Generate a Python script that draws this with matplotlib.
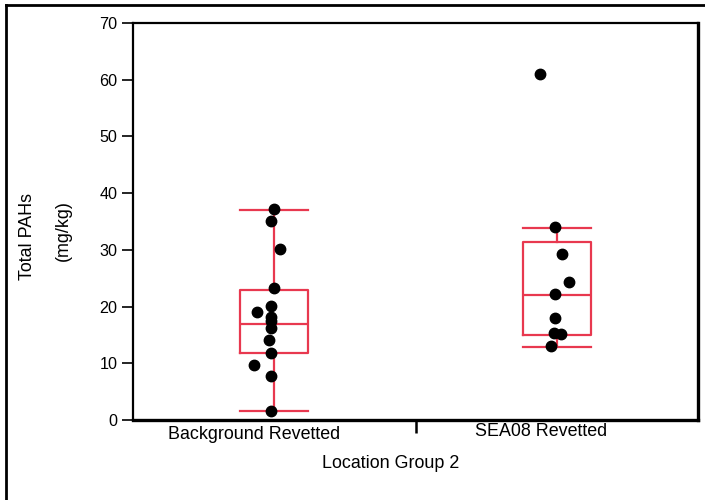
import matplotlib
matplotlib.use("Agg")
import matplotlib.pyplot as plt
from matplotlib.lines import Line2D

plt.rcParams['font.family'] = ['Liberation Sans', 'DejaVu Sans']

# Category names and positions on the x axis
groups = ["Background Revetted", "SEA08 Revetted"]
positions = [0.5, 1.5]

# Individual Total PAH results (mg/kg) with small horizontal jitter offsets
background_vals = [37.2, 35.1, 30.2, 23.3, 20.1, 19.0, 18.2, 17.5, 16.3, 14.1, 11.9, 9.7, 7.8, 1.5]
background_jit = [0.00, -0.01, 0.02, 0.00, -0.01, -0.06, -0.01, -0.01, -0.01, -0.02, -0.01, -0.07, -0.01, -0.01]
sea08_vals = [61.0, 34.1, 29.2, 24.3, 22.2, 18.0, 15.3, 15.1, 13.1]
sea08_jit = [-0.06, -0.005, 0.02, 0.045, -0.005, -0.005, -0.01, 0.015, -0.02]

# Box summaries: lower whisker, Q1, median, Q3, upper whisker
whis_lo = [1.5, 12.9]
q1 = [11.9, 15.0]
medians = [17.0, 22.0]
q3 = [23.0, 31.4]
whis_hi = [37.0, 33.9]

box_color = "#e8384f"
W, H = 705, 500

fig = plt.figure(figsize=(7.05, 5.0), dpi=100)
ax = fig.add_axes([133 / W, 80 / H, 565 / W, 397 / H])

stats = []
for i in range(len(groups)):
    stats.append(dict(whislo=whis_lo[i], q1=q1[i], med=medians[i], q3=q3[i],
                      whishi=whis_hi[i], fliers=[], label=groups[i]))

line_kw = dict(color=box_color, linewidth=1.6)
ax.bxp(stats, positions=positions, widths=0.24, showfliers=False,
       boxprops=line_kw, medianprops=line_kw, whiskerprops=line_kw,
       capprops=line_kw, capwidths=0.24, zorder=2)

xs_bg = [positions[0] + j for j in background_jit]
xs_sea = [positions[1] + j for j in sea08_jit]
ax.plot(xs_bg, background_vals, 'o', color='black', markersize=7.5, zorder=3)
ax.plot(xs_sea, sea08_vals, 'o', color='black', markersize=7.5, zorder=3)

ax.set_xlim(0, 2)
ax.set_ylim(0, 70)
ax.set_yticks(range(0, 71, 10))
ax.tick_params(axis='y', direction='out', length=8, width=1.2, labelsize=11.6, pad=3)
ax.set_xticks([1.0])
ax.set_xticklabels([""])
ax.tick_params(axis='x', direction='out', length=9, width=1.8)

for side in ['left', 'right', 'top', 'bottom']:
    ax.spines[side].set_linewidth(1.6)
ax.spines['right'].set_linewidth(2.4)
ax.spines['bottom'].set_linewidth(2.4)

label_size = 12.9

# Category labels under the axis
fig.text(254 / W, 1 - 439 / H, groups[0], ha='center', va='baseline', fontsize=label_size)
fig.text(541 / W, 1 - 435.5 / H, groups[1], ha='center', va='baseline', fontsize=label_size)

# Axis titles
fig.text(391 / W, 1 - 467.5 / H, "Location Group 2", ha='center', va='baseline',
         fontsize=label_size)
fig.text(32 / W, 1 - 236 / H, "Total PAHs", ha='center', va='baseline',
         rotation=90, rotation_mode='anchor', fontsize=label_size)
fig.text(68 / W, 1 - 231 / H, "(mg/kg)", ha='center', va='baseline',
         rotation=90, rotation_mode='anchor', fontsize=label_size)

# Outer frame, open at the right and bottom edges
fig.add_artist(Line2D([6 / W, 6 / W], [0, 1 - 5 / H], transform=fig.transFigure,
                      color='black', linewidth=2))
fig.add_artist(Line2D([6 / W, 1], [1 - 5 / H, 1 - 5 / H], transform=fig.transFigure,
                      color='black', linewidth=2))

fig.savefig("out.png", dpi=100)
